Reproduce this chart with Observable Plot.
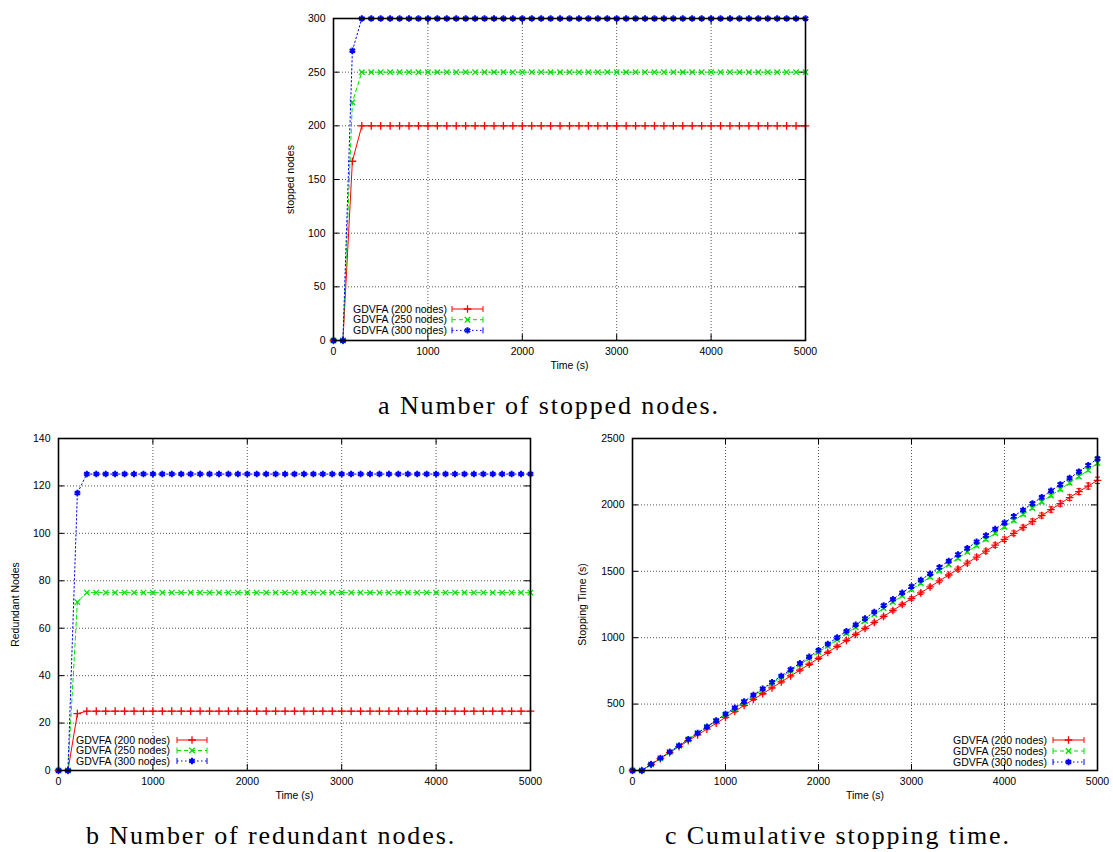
<!DOCTYPE html>
<html><head><meta charset="utf-8">
<script src="https://cdn.jsdelivr.net/npm/d3@7"></script>
<script src="https://cdn.jsdelivr.net/npm/@observablehq/plot@0.6"></script>
<style>
html,body{margin:0;padding:0;background:#fff}
body{width:1113px;height:852px;position:relative;overflow:hidden;font-family:"Liberation Sans",Arial,sans-serif}
.panel{position:absolute}
.caption{position:absolute;font-family:"Liberation Serif",serif;font-size:26px;letter-spacing:1.9px;white-space:nowrap;transform:translate(-50%,-50%);color:#000}
.legend{position:absolute;overflow:visible}
</style>
</head><body>
<script>
// ---------- data ----------
const times = [0,100,200,300,400,500,600,700,800,900,1000,1100,1200,1300,1400,1500,1600,1700,1800,1900,2000,2100,2200,2300,2400,2500,2600,2700,2800,2900,3000,3100,3200,3300,3400,3500,3600,3700,3800,3900,4000,4100,4200,4300,4400,4500,4600,4700,4800,4900,5000];
const seriesNames = ["GDVFA (200 nodes)", "GDVFA (250 nodes)", "GDVFA (300 nodes)"];

// a: stopped nodes
const stopped200 = [0,0,167,200,200,200,200,200,200,200,200,200,200,200,200,200,200,200,200,200,200,200,200,200,200,200,200,200,200,200,200,200,200,200,200,200,200,200,200,200,200,200,200,200,200,200,200,200,200,200,200];
const stopped250 = [0,0,222,250,250,250,250,250,250,250,250,250,250,250,250,250,250,250,250,250,250,250,250,250,250,250,250,250,250,250,250,250,250,250,250,250,250,250,250,250,250,250,250,250,250,250,250,250,250,250,250];
const stopped300 = [0,0,270,300,300,300,300,300,300,300,300,300,300,300,300,300,300,300,300,300,300,300,300,300,300,300,300,300,300,300,300,300,300,300,300,300,300,300,300,300,300,300,300,300,300,300,300,300,300,300,300];

// b: redundant nodes
const redundant200 = [0,0,24,25,25,25,25,25,25,25,25,25,25,25,25,25,25,25,25,25,25,25,25,25,25,25,25,25,25,25,25,25,25,25,25,25,25,25,25,25,25,25,25,25,25,25,25,25,25,25,25];
const redundant250 = [0,0,71,75,75,75,75,75,75,75,75,75,75,75,75,75,75,75,75,75,75,75,75,75,75,75,75,75,75,75,75,75,75,75,75,75,75,75,75,75,75,75,75,75,75,75,75,75,75,75,75];
const redundant300 = [0,0,117,125,125,125,125,125,125,125,125,125,125,125,125,125,125,125,125,125,125,125,125,125,125,125,125,125,125,125,125,125,125,125,125,125,125,125,125,125,125,125,125,125,125,125,125,125,125,125,125];

// c: cumulative stopping time
const stopTime200 = [0,0,45,90,135,180,225,268,312,356,400,445,490,535,578,622,667,712,756,800,845,890,935,980,1025,1070,1115,1160,1205,1250,1295,1338,1383,1428,1472,1517,1562,1607,1652,1697,1741,1786,1830,1875,1920,1965,2010,2055,2100,2142,2185];
const stopTime250 = [0,0,46,92,139,186,233,280,327,374,421,468,515,562,609,656,703,750,797,844,891,938,985,1032,1079,1126,1174,1221,1268,1315,1362,1410,1457,1504,1551,1598,1646,1693,1740,1787,1835,1882,1929,1976,2024,2071,2118,2166,2213,2262,2315];
const stopTime300 = [0,0,47,93,140,187,235,282,330,377,425,472,520,568,616,664,712,760,808,856,905,953,1001,1049,1097,1145,1193,1242,1290,1338,1386,1434,1482,1530,1578,1626,1674,1722,1770,1818,1866,1914,1962,2010,2058,2106,2154,2202,2250,2298,2348];
const stopErr200 = [0,0,3,3,4,4,4,5,5,5,6,6,6,7,7,7,8,8,8,9,9,9,10,10,10,11,11,11,12,12,13,13,13,14,14,15,15,16,16,17,17,18,18,19,19,20,20,21,22,23,24];
const stopErr250 = [0,0,3,3,3,3,4,4,4,4,5,5,5,5,5,6,6,6,6,6,7,7,7,7,7,8,8,8,8,8,9,9,9,9,9,10,10,10,10,10,11,11,11,11,11,12,12,12,12,12,13];
const stopErr300 = [0,0,3,3,3,3,4,4,4,4,5,5,5,5,5,6,6,6,6,6,7,7,7,7,7,8,8,8,8,8,9,9,9,9,9,10,10,10,10,10,11,11,11,11,11,12,12,12,12,12,13];

const xTicks = [0,1000,2000,3000,4000,5000];
const yTicksA = [0,50,100,150,200,250,300];
const yTicksB = [0,20,40,60,80,100,120,140];
const yTicksC = [0,500,1000,1500,2000,2500];

// ---------- styles ----------
const colors = ["#ff0000", "#00e000", "#0000ff"];
const symbols = ["plus", "times", "asterisk"];
const dashes = [null, "4,3", "1.5,2.5"];
const symR = [2.6, 2.6, 3];
const symW = [1.3, 1.3, 2];

const capSymbol = {draw(ctx, size) { const w = 2.5; ctx.moveTo(-w, 0); ctx.lineTo(w, 0); }};

function rows(values, errs) {
  return times.map((t, i) => ({t, v: values[i], e: errs ? errs[i] : 0}));
}

function makePanel(cfg) {
  const innerW = cfg.width - cfg.marginLeft - cfg.marginRight;
  const innerH = cfg.height - cfg.marginTop - cfg.marginBottom;
  const marks = [
    Plot.gridX(xTicks, {stroke: "#555", strokeOpacity: 1, strokeDasharray: "1,2", strokeWidth: 1}),
    Plot.gridY(cfg.yTicks, {stroke: "#555", strokeOpacity: 1, strokeDasharray: "1,2", strokeWidth: 1}),
    Plot.tickX(xTicks, {x: d => d, insetTop: innerH - 6, stroke: "#000", strokeWidth: 1}),
    Plot.tickX(xTicks, {x: d => d, insetBottom: innerH - 6, stroke: "#000", strokeWidth: 1}),
    Plot.tickY(cfg.yTicks, {y: d => d, insetRight: innerW - 6, stroke: "#000", strokeWidth: 1}),
    Plot.tickY(cfg.yTicks, {y: d => d, insetLeft: innerW - 6, stroke: "#000", strokeWidth: 1}),
  ];
  cfg.series.forEach((s, i) => {
    const data = rows(s, cfg.errs ? cfg.errs[i] : null);
    marks.push(Plot.line(data, {x: "t", y: "v", stroke: colors[i], strokeWidth: 1, strokeDasharray: dashes[i]}));
    if (cfg.errs) {
      const ed = data.filter(d => d.e > 0);
      marks.push(Plot.ruleX(ed, {x: "t", y1: d => d.v - d.e, y2: d => d.v + d.e, stroke: colors[i], strokeWidth: 1}));
      marks.push(Plot.dot(ed, {x: "t", y: d => d.v - d.e, symbol: capSymbol, stroke: colors[i], r: 3, strokeWidth: 1}));
      marks.push(Plot.dot(ed, {x: "t", y: d => d.v + d.e, symbol: capSymbol, stroke: colors[i], r: 3, strokeWidth: 1}));
    }
    marks.push(Plot.dot(data, {x: "t", y: "v", symbol: symbols[i], stroke: colors[i], r: symR[i], strokeWidth: symW[i]}));
  });
  marks.push(Plot.frame({stroke: "#000", strokeWidth: 1.6}));
  marks.push(Plot.axisX(xTicks, {tickSize: 0, tickPadding: 7, tickFormat: d => String(d), label: "Time (s)", labelAnchor: "center", labelArrow: "none", labelOffset: 28, fill: "#000"}));
  marks.push(Plot.axisY(cfg.yTicks, {tickSize: 0, tickPadding: 8, tickFormat: d => String(d), label: cfg.ylabel, labelAnchor: "center", labelArrow: "none", labelOffset: cfg.labelOffset, fill: "#000"}));

  const chart = Plot.plot({
    width: cfg.width, height: cfg.height,
    marginLeft: cfg.marginLeft, marginRight: cfg.marginRight,
    marginTop: cfg.marginTop, marginBottom: cfg.marginBottom,
    x: {domain: [0, 5000]},
    y: {domain: cfg.yDomain},
    style: {fontFamily: "'Liberation Sans', Arial, sans-serif", fontSize: "10.5px", color: "#000", background: "transparent", overflow: "visible"},
    marks
  });
  const wrap = document.createElement("div");
  wrap.className = "panel";
  wrap.style.left = cfg.left + "px";
  wrap.style.top = cfg.top + "px";
  wrap.appendChild(chart);
  document.body.appendChild(wrap);

  // legend (inside the plot frame, gnuplot style)
  const lg = cfg.legend;
  const ns = "http://www.w3.org/2000/svg";
  const svg = document.createElementNS(ns, "svg");
  svg.setAttribute("class", "legend");
  const lw = lg.lineX2 - lg.textRight + 120, lh = 3 * lg.rowH + 10;
  const ox = lg.textRight - 110, oy = lg.rowY0 - 8;
  svg.setAttribute("width", lw); svg.setAttribute("height", lh);
  svg.style.left = ox + "px"; svg.style.top = oy + "px";
  seriesNames.forEach((name, i) => {
    const y = lg.rowY0 - oy + i * lg.rowH;
    const tx = document.createElementNS(ns, "text");
    tx.setAttribute("x", lg.textRight - ox);
    tx.setAttribute("y", y);
    tx.setAttribute("dy", "0.35em");
    tx.setAttribute("text-anchor", "end");
    tx.setAttribute("font-family", "'Liberation Sans', Arial, sans-serif");
    tx.setAttribute("font-size", "10.5px");
    tx.textContent = name;
    svg.appendChild(tx);
    const x1 = lg.lineX1 - ox, x2 = lg.lineX2 - ox;
    const ln = document.createElementNS(ns, "line");
    ln.setAttribute("x1", x1); ln.setAttribute("x2", x2);
    ln.setAttribute("y1", y); ln.setAttribute("y2", y);
    ln.setAttribute("stroke", colors[i]);
    if (dashes[i]) ln.setAttribute("stroke-dasharray", dashes[i]);
    svg.appendChild(ln);
    [x1, x2].forEach(xx => {
      const c = document.createElementNS(ns, "line");
      c.setAttribute("x1", xx); c.setAttribute("x2", xx);
      c.setAttribute("y1", y - 3); c.setAttribute("y2", y + 3);
      c.setAttribute("stroke", colors[i]);
      svg.appendChild(c);
    });
    const symType = [d3.symbolPlus, d3.symbolTimes, d3.symbolAsterisk][i];
    const r = symR[i];
    const p = document.createElementNS(ns, "path");
    p.setAttribute("d", d3.symbol(symType, r * r * Math.PI)());
    p.setAttribute("transform", `translate(${(x1 + x2) / 2},${y})`);
    p.setAttribute("fill", "none");
    p.setAttribute("stroke", colors[i]);
    p.setAttribute("stroke-width", symW[i]);
    svg.appendChild(p);
  });
  document.body.appendChild(svg);
}

function caption(text, cx, cy) {
  const d = document.createElement("div");
  d.className = "caption";
  d.textContent = text;
  d.style.left = cx + "px";
  d.style.top = cy + "px";
  document.body.appendChild(d);
}

makePanel({
  left: 270, top: 0, width: 560, height: 380,
  marginLeft: 63, marginRight: 25, marginTop: 18, marginBottom: 40,
  yTicks: yTicksA, yDomain: [0, 300], ylabel: "stopped nodes", labelOffset: 47,
  series: [stopped200, stopped250, stopped300],
  legend: {textRight: 447, lineX1: 452, lineX2: 483, rowY0: 309, rowH: 10.7}
});
makePanel({
  left: 0, top: 428, width: 550, height: 382,
  marginLeft: 58, marginRight: 20, marginTop: 10, marginBottom: 40,
  yTicks: yTicksB, yDomain: [0, 140], ylabel: "Redundant Nodes", labelOffset: 47,
  series: [redundant200, redundant250, redundant300],
  legend: {textRight: 170, lineX1: 177, lineX2: 207, rowY0: 740, rowH: 10.5}
});
makePanel({
  left: 570, top: 428, width: 543, height: 382,
  marginLeft: 62, marginRight: 16, marginTop: 10, marginBottom: 40,
  yTicks: yTicksC, yDomain: [0, 2500], ylabel: "Stopping Time (s)", labelOffset: 54,
  series: [stopTime200, stopTime250, stopTime300],
  errs: [stopErr200, stopErr250, stopErr300],
  legend: {textRight: 1047, lineX1: 1053, lineX2: 1084, rowY0: 740, rowH: 11}
});

caption("a Number of stopped nodes.", 549, 406);
caption("b Number of redundant nodes.", 271, 836);
caption("c Cumulative stopping time.", 838, 836);
</script>
</body></html>
